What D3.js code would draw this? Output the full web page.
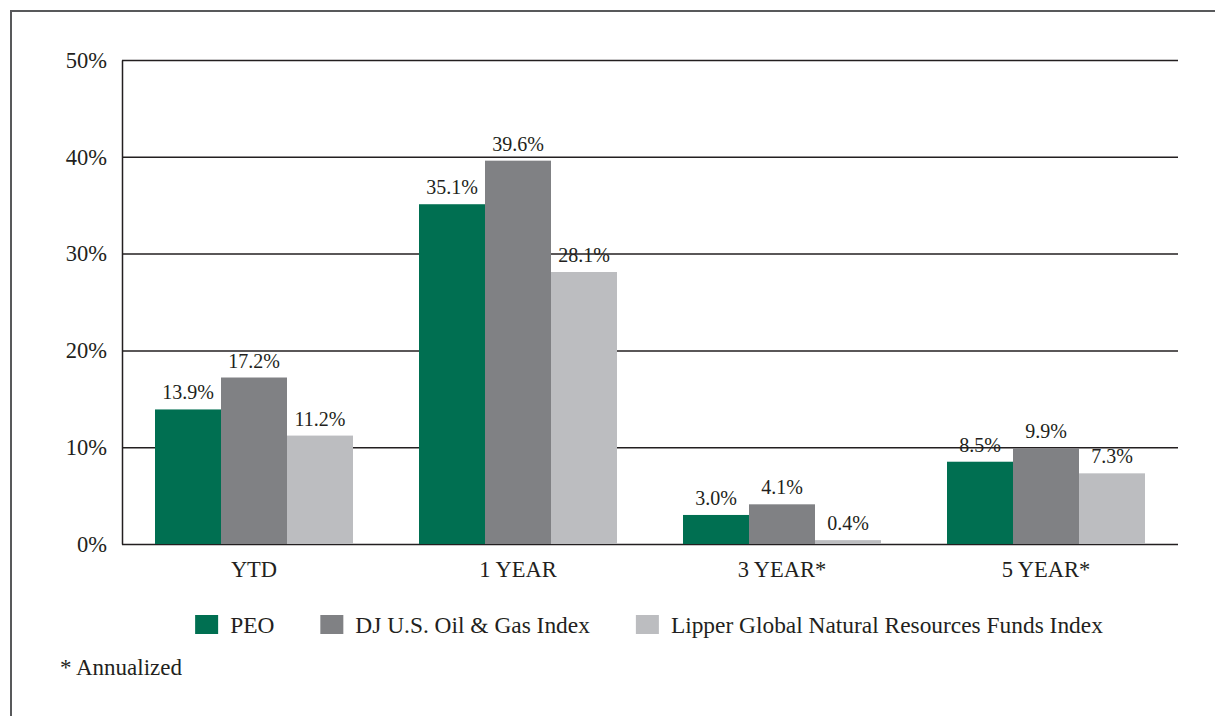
<!DOCTYPE html>
<html><head><meta charset="utf-8">
<script src="https://cdn.jsdelivr.net/npm/d3@7"></script>
<style>
html,body{margin:0;padding:0;background:#fff;overflow:hidden;}
text{font-family:"Liberation Serif","Times New Roman",serif;fill:#231F20;}
</style></head>
<body>
<svg id="chart" width="1215" height="716"></svg>
<script>
const categories = ["YTD", "1 YEAR", "3 YEAR*", "5 YEAR*"];
const seriesNames = ["PEO", "DJ U.S. Oil & Gas Index", "Lipper Global Natural Resources Funds Index"];
const peo = [13.9, 35.1, 3.0, 8.5];
const djOilGas = [17.2, 39.6, 4.1, 9.9];
const lipper = [11.2, 28.1, 0.4, 7.3];
const yTicks = [0, 10, 20, 30, 40, 50];
const colors = ["#006F51", "#808184", "#BCBDC0"];
const footnote = "* Annualized";

const series = [peo, djOilGas, lipper];
const svg = d3.select("#chart");
const W = 1215, H = 716;
const m = {left: 122, right: 1178, top: 60, bottom: 544};

// frame
svg.append("rect").attr("x", 11).attr("y", 11).attr("width", W + 20).attr("height", H + 20)
  .attr("fill", "none").attr("stroke", "#58595B").attr("stroke-width", 2);

const x = d3.scaleBand().domain(categories).range([m.left, m.right]).paddingInner(0.25).paddingOuter(0.125);
const xs = d3.scaleBand().domain(d3.range(series.length)).range([0, x.bandwidth()]);
const y = d3.scaleLinear().domain([0, 50]).range([m.bottom, m.top]);

// y axis with gridlines
const yAxis = svg.append("g").attr("transform", `translate(${m.left},0)`)
  .call(d3.axisLeft(y).tickValues(yTicks).tickFormat(d => d + "%")
    .tickSizeInner(-(m.right - m.left)).tickSizeOuter(0).tickPadding(15));
yAxis.selectAll("line").attr("stroke", "#231F20").attr("stroke-width", 1.5);
yAxis.select(".domain").attr("stroke", "#231F20").attr("stroke-width", 1.5);
yAxis.selectAll("text").style("font-family", '"Liberation Serif",serif').style("font-size", "22.5px").attr("fill", "#231F20");

// bars
const groups = svg.append("g").selectAll("g").data(categories).join("g")
  .attr("transform", d => `translate(${x(d)},0)`);
groups.each(function(cat, ci) {
  const g = d3.select(this);
  series.forEach((s, si) => {
    g.append("rect").attr("x", xs(si)).attr("width", xs.bandwidth())
      .attr("y", y(s[ci])).attr("height", y(0) - y(s[ci])).attr("fill", colors[si]);
    g.append("text").attr("x", xs(si) + xs.bandwidth() / 2).attr("y", y(s[ci]) - 10)
      .attr("text-anchor", "middle").style("font-size", "20px")
      .text(s[ci].toFixed(1) + "%");
  });
});

// x axis labels
const xAxis = svg.append("g").attr("transform", `translate(0,${m.bottom})`)
  .call(d3.axisBottom(x).tickSize(0).tickPadding(17));
xAxis.select(".domain").remove();
xAxis.selectAll("text").style("font-family", '"Liberation Serif",serif').style("font-size", "22.5px").attr("fill", "#231F20");

// legend
const legend = svg.append("g");
let cx = 0;
seriesNames.forEach((name, i) => {
  const it = legend.append("g").attr("transform", `translate(${cx},0)`);
  it.append("rect").attr("x", 0).attr("y", 615).attr("width", 23).attr("height", 19).attr("fill", colors[i]);
  const t = it.append("text").attr("x", 35).attr("y", 633).style("font-size", "23.4px").text(name);
  const w = t.node().getComputedTextLength();
  cx += 35 + w + 46;
});
const total = cx - 46;
legend.attr("transform", `translate(${(m.left + m.right) / 2 - total / 2 - 1},0)`);

// footnote
svg.append("text").attr("x", 60).attr("y", 675).style("font-size", "23px").text(footnote);
</script>
</body></html>
